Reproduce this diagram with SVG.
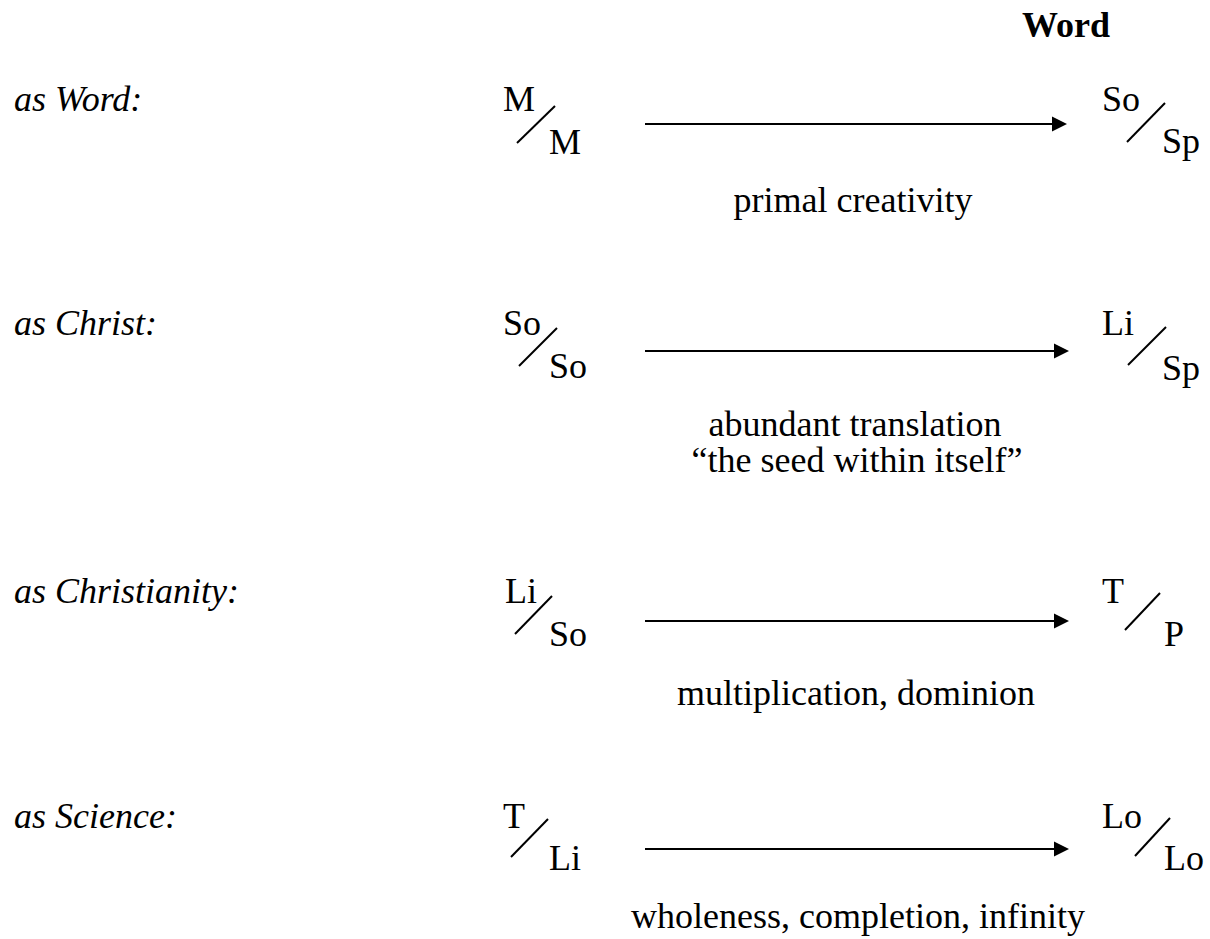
<svg xmlns="http://www.w3.org/2000/svg" width="1210" height="939" viewBox="0 0 1210 939">
<style>
text{font-size:36px;fill:#000}
.lab{font-style:italic}
.hd{font-weight:bold}
.cap{text-anchor:middle}
.sl{stroke:#000;stroke-width:2;fill:none}
.ar{stroke:#000;stroke-width:2.2;fill:none}
</style>
<defs>
<marker id="ah" markerWidth="16" markerHeight="16" refX="1" refY="7.5" orient="auto" markerUnits="userSpaceOnUse" viewBox="0 0 16 15">
<path d="M0,0 L15,7.5 L0,15 Z" fill="#000"/>
</marker>
</defs>
<rect width="1210" height="939" fill="#fff"/>
<g font-family="'Liberation Serif', 'DejaVu Serif', 'Times New Roman', serif">
<text id="header" class="hd" x="1022" y="37">Word</text>

<g id="labels">
<text class="lab" x="14" y="111">as Word:</text>
<text class="lab" x="14" y="335">as Christ:</text>
<text class="lab" x="14" y="603">as Christianity:</text>
<text class="lab" x="14" y="828">as Science:</text>
</g>

<g id="n1a"><text x="503" y="111">M</text><line class="sl" x1="517" y1="143" x2="555" y2="106"/><text x="549" y="154">M</text></g>
<g id="n1b"><text x="1102" y="111">So</text><line class="sl" x1="1127" y1="142" x2="1165" y2="103"/><text x="1162" y="153">Sp</text></g>

<g id="n2a"><text x="503" y="335">So</text><line class="sl" x1="519" y1="366" x2="557" y2="328"/><text x="549" y="378">So</text></g>
<g id="n2b"><text x="1102" y="335">Li</text><line class="sl" x1="1128" y1="365" x2="1166" y2="327"/><text x="1162" y="380">Sp</text></g>

<g id="n3a"><text x="505" y="603">Li</text><line class="sl" x1="515" y1="634" x2="552" y2="596"/><text x="549" y="646">So</text></g>
<g id="n3b"><text x="1102" y="603">T</text><line class="sl" x1="1125" y1="630" x2="1160" y2="593"/><text x="1164" y="646">P</text></g>

<g id="n4a"><text x="503" y="828">T</text><line class="sl" x1="511" y1="857" x2="548" y2="819"/><text x="549" y="870">Li</text></g>
<g id="n4b"><text x="1102" y="828">Lo</text><line class="sl" x1="1135" y1="856" x2="1170" y2="818"/><text x="1164" y="870">Lo</text></g>

<g id="captions">
<text class="cap" x="853" y="212">primal creativity</text>
<text class="cap" x="855" y="436">abundant translation</text>
<text class="cap" x="857" y="472">“the seed within itself”</text>
<text class="cap" x="856" y="705">multiplication, dominion</text>
<text class="cap" x="858" y="928">wholeness, completion, infinity</text>
</g>
</g>

<g id="connectors">
<line class="ar" x1="645" y1="124" x2="1053" y2="124" marker-end="url(#ah)"/>
<line class="ar" x1="645" y1="351" x2="1055" y2="351" marker-end="url(#ah)"/>
<line class="ar" x1="645" y1="621" x2="1055" y2="621" marker-end="url(#ah)"/>
<line class="ar" x1="645" y1="849" x2="1055" y2="849" marker-end="url(#ah)"/>
</g>
</svg>
